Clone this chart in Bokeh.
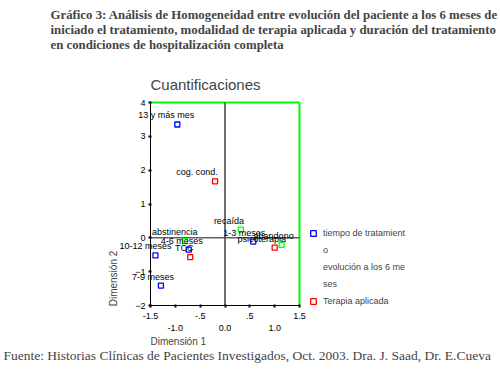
import math
from bokeh.plotting import figure
from bokeh.models import (ColumnDataSource, LabelSet, Label, Range1d,
                          FixedTicker, Legend, LegendItem)
from bokeh.core.properties import value
from bokeh.embed import file_html
from bokeh.resources import INLINE

# ---- data -------------------------------------------------------------
# tiempo de tratamiento (blue)
tiempo_labels = ["13 y más mes", "10-12 meses", "7-9 meses", "4-6 meses", "1-3 meses"]
tiempo_x = [-0.96, -1.40, -1.29, -0.73, 0.57]
tiempo_y = [3.35, -0.52, -1.41, -0.35, -0.11]

# Terapia aplicada (red)
terapia_labels = ["cog. cond.", "TCC", "psicoterapia"]
terapia_x = [-0.20, -0.70, 1.00]
terapia_y = [1.67, -0.57, -0.29]

# evolución a los 6 meses (green)
evol_labels = ["recaída", "abstinencia", "abandono"]
evol_x = [0.32, -0.81, 1.14]
evol_y = [0.24, -0.10, -0.21]

x_tick_values = [-1.5, -1.0, -0.5, 0.0, 0.5, 1.0, 1.5]
x_tick_labels = ["-1.5", "-1.0", "-.5", "0.0", ".5", "1.0", "1.5"]
y_tick_values = [-2, -1, 0, 1, 2, 3, 4]

header_lines = [
    "Gráfico 3: Análisis de Homogeneidad entre evolución del paciente a los 6 meses de",
    "iniciado el tratamiento, modalidad de terapia aplicada y duración del tratamiento",
    "en condiciones de hospitalización completa",
]
footer_text = "Fuente: Historias Clínicas de Pacientes Investigados, Oct. 2003. Dra. J. Saad, Dr. E.Cueva"
legend_rows = ["tiempo de tratamient", "o", "evolución a los 6 me", "ses", "Terapia aplicada"]

# ---- layout / style -----------------------------------------------------
W, H = 500, 369
X_MIN, X_MAX, Y_MIN, Y_MAX = -1.5, 1.5, -2.0, 4.0
PLOT_L, PLOT_R, PLOT_T, PLOT_B = 150, 299, 102, 305      # pixel box of the map
sx = (PLOT_R - PLOT_L) / (X_MAX - X_MIN)
sy = (PLOT_B - PLOT_T) / (Y_MAX - Y_MIN)
x_start = X_MIN - PLOT_L / sx
y_start = Y_MIN - (H - PLOT_B) / sy

# label pixel nudges
tiempo_dx = [-11, -10, -8, -7, -9]
terapia_dx = [-18, -6, -13]
evol_dx = [-12, -10, -8]

SANS = "Liberation Sans"
SERIF = "Liberation Serif"
BLUE, RED, GREEN = "#0000ff", "#ff0000", "#00ff00"

p = figure(width=W, height=H, title=None,
           x_range=Range1d(x_start, x_start + W / sx),
           y_range=Range1d(y_start, y_start + H / sy),
           output_backend="svg", toolbar_location=None,
           min_border=0, min_border_left=0, min_border_right=0,
           min_border_top=0, min_border_bottom=0)
p.xgrid.visible = False
p.ygrid.visible = False
p.outline_line_color = None
p.background_fill_color = "white"
p.border_fill_color = "white"

# axes at the edges of the map
xa = p.xaxis[0]
xa.ticker = FixedTicker(ticks=x_tick_values)
xa.major_label_overrides = {v: (("\n" + t) if i % 2 else t)
                            for i, (v, t) in enumerate(zip(x_tick_values, x_tick_labels))}
xa.fixed_location = Y_MIN
xa.bounds = (X_MIN, X_MAX)
ya = p.yaxis[0]
ya.ticker = FixedTicker(ticks=y_tick_values)
ya.fixed_location = X_MIN
ya.bounds = (Y_MIN, Y_MAX)
for ax in (xa, ya):
    ax.axis_line_color = "black"
    ax.axis_line_width = 1
    ax.major_tick_in = 1
    ax.major_tick_out = 2
    ax.major_tick_line_width = 2
    ax.minor_tick_line_color = None
    ax.major_label_text_font = SANS
    ax.major_label_text_font_size = "9px"
    ax.major_label_text_color = "black"
    ax.major_label_standoff = 3

# frame top/right in green, zero lines
p.segment(x0=[X_MIN, X_MAX], y0=[Y_MAX, Y_MIN], x1=[X_MAX, X_MAX], y1=[Y_MAX, Y_MAX],
          line_color=GREEN, line_width=2)
p.segment(x0=[X_MIN], y0=[0], x1=[X_MAX], y1=[0], line_color="#606060", line_width=1.5)
p.segment(x0=[0], y0=[Y_MIN], x1=[0], y1=[Y_MAX], line_color="#404040", line_width=1.5)

# points
r_blue = p.scatter(tiempo_x, tiempo_y, marker="square", size=5, line_color=BLUE,
                   fill_color="white", line_width=1.3)
r_red = p.scatter(terapia_x, terapia_y, marker="square", size=5, line_color=RED,
                  fill_color="white", line_width=1.3)
r_green = p.scatter(evol_x, evol_y, marker="square", size=5, line_color=GREEN,
                    fill_color="white", line_width=1.3)
r_dummy = p.scatter([], [], marker="square", size=5, line_alpha=0, fill_alpha=0)

# point labels
src = ColumnDataSource(dict(
    x=tiempo_x + terapia_x + evol_x,
    y=tiempo_y + terapia_y + evol_y,
    text=tiempo_labels + terapia_labels + evol_labels,
    dx=tiempo_dx + terapia_dx + evol_dx,
))
p.add_layout(LabelSet(x="x", y="y", text="text", source=src, x_offset="dx", y_offset=9,
                      text_align="center", text_baseline="middle",
                      text_font=value(SANS), text_font_size="9px", text_color="black"))

# legend
legend = Legend(items=[
    LegendItem(label=legend_rows[0], renderers=[r_blue]),
    LegendItem(label=legend_rows[1], renderers=[r_dummy]),
    LegendItem(label=legend_rows[2], renderers=[r_dummy]),
    LegendItem(label=legend_rows[3], renderers=[r_dummy]),
    LegendItem(label=legend_rows[4], renderers=[r_red]),
], location=(306, H - 308), padding=0, margin=0, spacing=3, glyph_width=14, glyph_height=14,
    label_height=14, label_standoff=3, border_line_color=None, background_fill_alpha=0,
    label_text_font=SANS, label_text_font_size="9px")
p.add_layout(legend)

# texts (screen units from the bottom-left corner)
p.add_layout(Label(x=205, y=H - 84, x_units="screen", y_units="screen", text="Cuantificaciones",
                   text_align="center", text_baseline="middle", text_font=SANS,
                   text_font_size="15px"))
p.add_layout(Label(x=150, y=H - 341, x_units="screen", y_units="screen", text="Dimensión 1",
                   text_align="left", text_baseline="middle", text_font=SANS,
                   text_font_size="10px"))
p.add_layout(Label(x=113, y=H - 278, x_units="screen", y_units="screen", text="Dimensión 2",
                   angle=math.pi / 2, text_align="center", text_baseline="middle",
                   text_font=SANS, text_font_size="10px"))
for i, line in enumerate(header_lines):
    p.add_layout(Label(x=50, y=H - 14.7 - 14.8 * i, x_units="screen", y_units="screen",
                       text=line, text_align="left", text_baseline="middle",
                       text_font=SERIF, text_font_style="bold", text_font_size="12.8px"))
p.add_layout(Label(x=3, y=H - 355, x_units="screen", y_units="screen", text=footer_text,
                   text_align="left", text_baseline="middle", text_font=SERIF,
                   text_font_size="13.5px"))

open("out.html", "w").write(file_html(p, INLINE))
